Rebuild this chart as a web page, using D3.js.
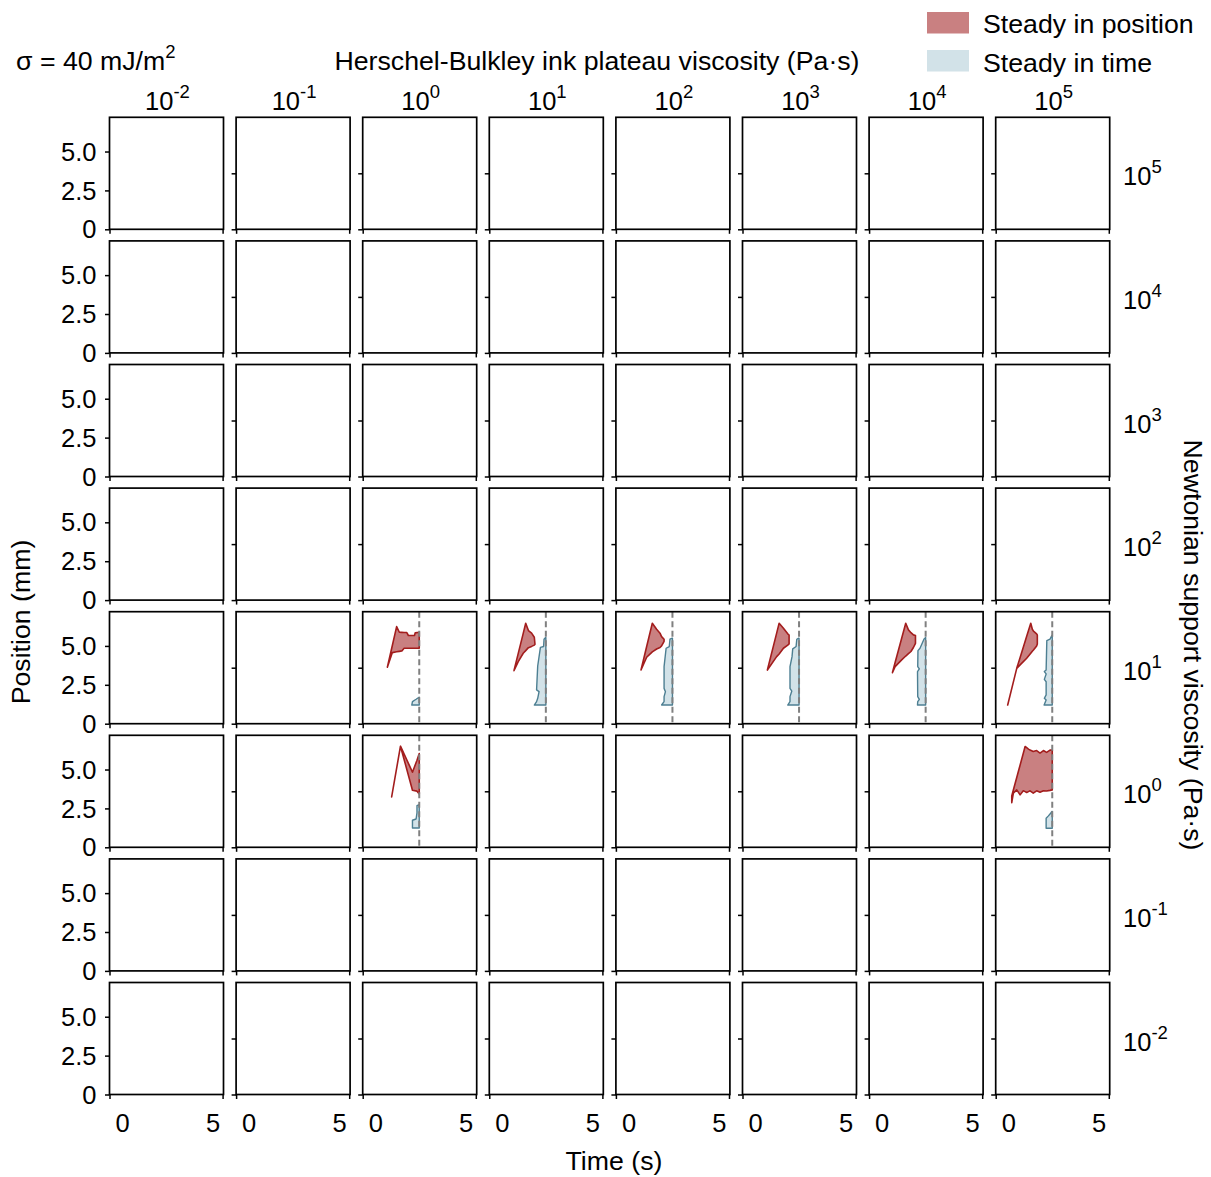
<!DOCTYPE html>
<html>
<head>
<meta charset="utf-8">
<script src="https://cdn.jsdelivr.net/npm/d3@7"></script>
<style>
html,body{margin:0;padding:0;background:#fff;}
text{font-family:"Liberation Sans",Arial,Helvetica,sans-serif;fill:#000;}
</style>
</head>
<body>
<svg id="chart" width="1211" height="1177"></svg>
<script>
// ---------- data ----------
const inkExp = ["-2","-1","0","1","2","3","4","5"];       // column headers 10^x (Pa·s)
const supportExp = ["5","4","3","2","1","0","-1","-2"];   // row labels 10^x (Pa·s)
const yTicksFirst = [0, 2.5, 5.0];
const yTickLabels = ["0", "2.5", "5.0"];
const yTicksOther = [0, 3.6];
const xTicks = [0, 5];
const xTickLabels = ["0", "5"];
const steadyTime = 2.5;

// support 10^1, ink 10^0
const s1i0PosT  = [1.09, 1.31, 1.50, 1.62, 1.73, 1.83, 1.95, 2.02, 2.29, 2.32, 2.50];
const s1i0PosLo = [3.63, 4.57, 4.62, 4.65, 4.68, 4.85, 4.85, 4.85, 4.85, 4.85, 4.85];
const s1i0PosHi = [3.63, 5.03, 6.24, 5.88, 5.87, 5.86, 5.86, 5.67, 5.67, 5.84, 5.88];
const s1i0TimeP = [1.20, 1.42, 1.57, 1.70];
const s1i0TimeL = [2.17, 2.20, 2.36, 2.49];

// support 10^1, ink 10^1
const s1i1PosT  = [1.09, 1.28, 1.50, 1.61, 1.73, 1.87, 1.99, 2.02];
const s1i1PosLo = [3.41, 3.99, 4.53, 4.70, 4.89, 4.97, 5.05, 5.11];
const s1i1PosHi = [3.41, 4.52, 5.81, 6.46, 5.99, 5.82, 5.56, 5.11];
const s1i1TimeP = [1.20, 1.42, 1.63, 2.06, 2.17, 3.71, 4.91, 4.96, 5.43, 5.54];
const s1i1TimeL = [1.99, 2.09, 2.14, 2.20, 2.09, 2.14, 2.26, 2.40, 2.42, 2.49];

// support 10^1, ink 10^2
const s1i2PosT  = [1.11, 1.36, 1.61, 1.80, 1.95, 2.02, 2.13];
const s1i2PosLo = [3.45, 4.27, 4.62, 4.80, 4.90, 5.00, 5.30];
const s1i2PosHi = [3.45, 4.96, 6.46, 6.07, 5.82, 5.60, 5.43];
const s1i2TimeP = [1.20, 1.42, 1.74, 2.06, 2.27, 3.67, 4.85, 4.96, 5.43, 5.49];
const s1i2TimeL = [2.02, 2.13, 2.13, 2.19, 2.13, 2.13, 2.22, 2.36, 2.39, 2.47];

// support 10^1, ink 10^3
const s1i3PosT  = [1.10, 1.51, 1.62, 1.81, 2.00, 2.06];
const s1i3PosLo = [3.45, 4.31, 4.48, 4.85, 5.05, 5.13];
const s1i3PosHi = [3.45, 5.82, 6.46, 6.14, 5.78, 5.70];
const s1i3TimeP = [1.20, 1.42, 1.74, 2.10, 2.27, 3.67, 4.31, 4.81, 4.96, 5.43, 5.49];
const s1i3TimeL = [2.00, 2.10, 2.10, 2.18, 2.10, 2.10, 2.19, 2.22, 2.37, 2.40, 2.47];

// support 10^1, ink 10^4
const s1i4PosT  = [1.03, 1.15, 1.44, 1.62, 1.74, 1.85, 1.96, 2.05];
const s1i4PosLo = [3.28, 3.67, 4.10, 4.35, 4.50, 4.64, 4.90, 5.17];
const s1i4PosHi = [3.28, 3.93, 5.49, 6.46, 6.03, 5.85, 5.71, 5.67];
const s1i4TimeP = [1.20, 1.42, 1.57, 1.74, 3.35, 3.52, 3.67, 4.70, 4.85, 5.45, 5.54];
const s1i4TimeL = [2.14, 2.15, 2.22, 2.15, 2.14, 2.22, 2.15, 2.16, 2.25, 2.43, 2.50];

// support 10^1, ink 10^5
const s1i5PosT  = [0.53, 0.93, 1.08, 1.37, 1.55, 1.62, 1.67, 1.81, 1.84];
const s1i5PosLo = [1.20, 3.56, 3.78, 4.21, 4.53, 4.66, 4.74, 5.00, 5.13];
const s1i5PosHi = [1.20, 3.56, 4.26, 5.62, 6.46, 6.07, 5.95, 5.77, 5.71];
const s1i5TimeP = [1.20, 1.52, 1.63, 1.85, 2.70, 2.85, 3.20, 3.35, 3.45, 5.34, 5.43, 5.67];
const s1i5TimeL = [2.14, 2.23, 2.15, 2.23, 2.23, 2.15, 2.23, 2.15, 2.23, 2.26, 2.40, 2.48];

// support 10^0, ink 10^0
const s0i0PosT  = [1.28, 1.67, 2.20, 2.40, 2.50];
const s0i0PosLo = [3.24, 6.50, 3.67, 3.61, 3.43];
const s0i0PosHi = [3.24, 6.50, 4.83, 5.60, 6.03];
const s0i0TimeP = [1.24, 1.74, 1.82, 2.21, 2.68, 2.75];
const s0i0TimeL = [2.20, 2.20, 2.36, 2.40, 2.40, 2.50];

// support 10^0, ink 10^5
const s0i5PosT  = [0.71, 0.78, 0.93, 1.08, 1.22, 1.30, 1.37, 1.45, 1.52, 1.66, 1.81, 1.96, 2.11, 2.25, 2.40, 2.50];
const s0i5PosLo = [2.87, 3.48, 3.69, 3.37, 3.63, 3.58, 3.52, 3.58, 3.63, 3.48, 3.63, 3.54, 3.63, 3.62, 3.66, 3.69];
const s0i5PosHi = [3.30, 3.68, 4.49, 5.29, 6.05, 6.48, 6.40, 6.31, 6.25, 6.16, 6.22, 6.06, 6.22, 6.10, 6.25, 6.25];
const s0i5TimeP = [1.22, 1.87, 2.02, 2.19, 2.30];
const s0i5TimeL = [2.23, 2.23, 2.33, 2.43, 2.48];

// table built from the arrays above (row = support index, col = ink index)
const panels = [
  {row:4, col:2, pt:s1i0PosT, plo:s1i0PosLo, phi:s1i0PosHi, tp:s1i0TimeP, tl:s1i0TimeL},
  {row:4, col:3, pt:s1i1PosT, plo:s1i1PosLo, phi:s1i1PosHi, tp:s1i1TimeP, tl:s1i1TimeL},
  {row:4, col:4, pt:s1i2PosT, plo:s1i2PosLo, phi:s1i2PosHi, tp:s1i2TimeP, tl:s1i2TimeL},
  {row:4, col:5, pt:s1i3PosT, plo:s1i3PosLo, phi:s1i3PosHi, tp:s1i3TimeP, tl:s1i3TimeL},
  {row:4, col:6, pt:s1i4PosT, plo:s1i4PosLo, phi:s1i4PosHi, tp:s1i4TimeP, tl:s1i4TimeL},
  {row:4, col:7, pt:s1i5PosT, plo:s1i5PosLo, phi:s1i5PosHi, tp:s1i5TimeP, tl:s1i5TimeL},
  {row:5, col:2, pt:s0i0PosT, plo:s0i0PosLo, phi:s0i0PosHi, tp:s0i0TimeP, tl:s0i0TimeL},
  {row:5, col:7, pt:s0i5PosT, plo:s0i5PosLo, phi:s0i5PosHi, tp:s0i5TimeP, tl:s0i5TimeL}
];

// ---------- layout ----------
const W = 1211, H = 1177;
const left0 = 109.5, colStep = 126.6, pw = 114;
const top0 = 117.3, rowStep = 123.6, ph = 112;
const FS = 25.5, FL = 26.7, SUP = 18.5;
const redFill = "#c98081", redEdge = "#a31d1d";
const blueFill = "#d2e2e8", blueEdge = "#4d7f92";

const svg = d3.select("#chart");
svg.append("rect").attr("width", W).attr("height", H).attr("fill", "#fff");

const xs = d3.scaleLinear().domain([0, 5.04]).range([0, pw]);
const ys = d3.scaleLinear().domain([0, 7.2]).range([ph, 0]);

const posArea = d3.area().x(d => xs(d.t)).y0(d => ys(d.lo)).y1(d => ys(d.hi));
const timeArea = d3.area().y(d => ys(d.p)).x0(d => xs(d.l)).x1(() => xs(steadyTime));

function supText(sel, base, exp) {
  sel.append("tspan").text(base);
  sel.append("tspan").attr("font-size", SUP).attr("dy", -12).text(exp);
}

for (let r = 0; r < supportExp.length; r++) {
  for (let c = 0; c < inkExp.length; c++) {
    const g = svg.append("g").attr("transform", `translate(${left0 + c * colStep},${top0 + r * rowStep})`);
    const p = panels.find(d => d.row === r && d.col === c);
    if (p) {
      const pd = p.pt.map((t, i) => ({t, lo: p.plo[i], hi: p.phi[i]}));
      const td = p.tp.map((pp, i) => ({p: pp, l: p.tl[i]}));
      g.append("path").attr("d", timeArea(td)).attr("fill", blueFill)
        .attr("stroke", blueEdge).attr("stroke-width", 1.4).attr("stroke-linejoin", "round");
      g.append("path").attr("d", posArea(pd)).attr("fill", redFill)
        .attr("stroke", redEdge).attr("stroke-width", 1.6).attr("stroke-linejoin", "round");
      g.append("line").attr("x1", xs(steadyTime)).attr("x2", xs(steadyTime))
        .attr("y1", 0).attr("y2", ph).attr("stroke", "#808080")
        .attr("stroke-width", 2).attr("stroke-dasharray", "6,3.5");
    }
    // y axis
    const yAx = d3.axisLeft(ys).tickValues(c === 0 ? yTicksFirst : yTicksOther)
      .tickSize(4.5).tickPadding(8.5)
      .tickFormat((d, i) => c === 0 ? yTickLabels[i] : "");
    const ya = g.append("g").call(yAx);
    ya.select(".domain").remove();
    ya.selectAll("line").attr("stroke", "#000").attr("stroke-width", 1.5);
    ya.selectAll("text").attr("font-size", FS).attr("font-family", "Liberation Sans, Arial, sans-serif")
      .attr("fill", "#000").attr("dy", "0.34em");
    // x axis
    const xAx = d3.axisBottom(xs).tickValues(xTicks).tickSize(4.5)
      .tickFormat((d, i) => r === supportExp.length - 1 ? xTickLabels[i] : "");
    const xa = g.append("g").attr("transform", `translate(0,${ph})`).call(xAx);
    xa.select(".domain").remove();
    xa.selectAll("line").attr("stroke", "#000").attr("stroke-width", 1.5);
    xa.selectAll("text").attr("font-size", FS).attr("font-family", "Liberation Sans, Arial, sans-serif")
      .attr("fill", "#000").attr("y", 37.5).attr("dy", 0)
      .attr("text-anchor", (d, i) => i === 0 ? "start" : "end")
      .attr("dx", (d, i) => i === 0 ? 5.5 : -3);
    // frame
    g.append("rect").attr("width", pw).attr("height", ph).attr("fill", "none")
      .attr("stroke", "#000").attr("stroke-width", 1.7);
  }
}

// column headers
inkExp.forEach((e, c) => {
  const t = svg.append("text").attr("x", left0 + c * colStep + pw / 2 + 1).attr("y", 110)
    .attr("text-anchor", "middle").attr("font-size", FS);
  supText(t, "10", e);
});
// row labels
supportExp.forEach((e, r) => {
  const t = svg.append("text").attr("x", 1123).attr("y", top0 + r * rowStep + ph / 2 + 12)
    .attr("font-size", FS);
  supText(t, "10", e);
});

// titles
svg.append("text").attr("x", 597).attr("y", 70).attr("text-anchor", "middle")
  .attr("font-size", FL).text("Herschel-Bulkley ink plateau viscosity (Pa·s)");
const sig = svg.append("text").attr("x", 16).attr("y", 70).attr("font-size", FL);
sig.append("tspan").text("σ = 40 mJ/m");
sig.append("tspan").attr("font-size", SUP).attr("dy", -12).text("2");

svg.append("text").attr("x", 614).attr("y", 1170).attr("text-anchor", "middle")
  .attr("font-size", FL).text("Time (s)");
svg.append("text").attr("transform", "translate(30,622) rotate(-90)").attr("text-anchor", "middle")
  .attr("font-size", FL).text("Position (mm)");
svg.append("text").attr("transform", "translate(1184,645) rotate(90)").attr("text-anchor", "middle")
  .attr("font-size", FL).text("Newtonian support viscosity (Pa·s)");

// legend
const legendNames = ["Steady in position", "Steady in time"];
const legendFills = [redFill, blueFill];
legendNames.forEach((n, i) => {
  svg.append("rect").attr("x", 927).attr("y", 12 + i * 38).attr("width", 42).attr("height", 21.5)
    .attr("fill", legendFills[i]);
  svg.append("text").attr("x", 983).attr("y", 33.3 + i * 38.3).attr("font-size", FL).text(n);
});
</script>
</body>
</html>
